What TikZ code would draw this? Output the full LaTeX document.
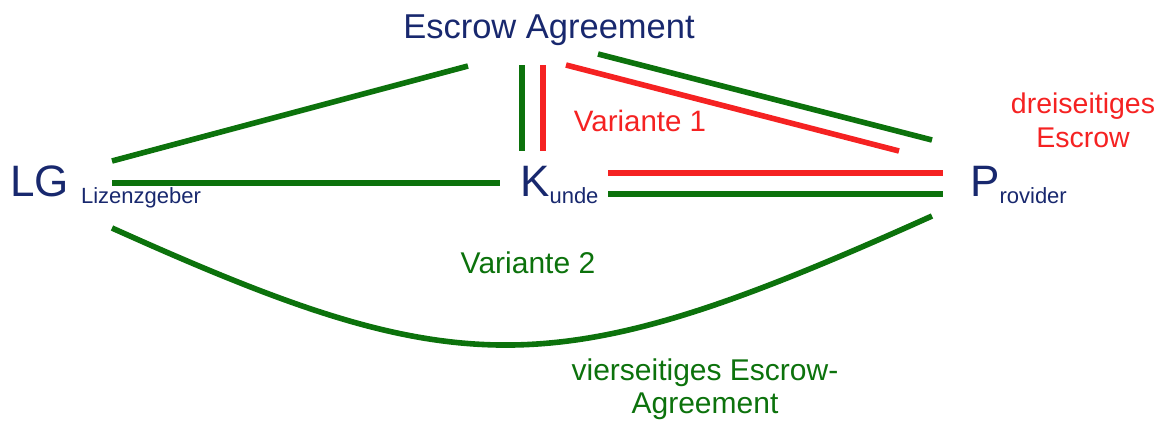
\documentclass[tikz,border=0pt]{standalone}
\usepackage{fontspec}
\setmainfont{Liberation Sans}
\definecolor{navy}{RGB}{24,40,110}
\definecolor{grn}{RGB}{12,114,12}
\definecolor{rd}{RGB}{245,34,34}
\newcommand{\fs}[2]{\fontsize{#1}{#2}\selectfont}
\begin{document}
\begin{tikzpicture}[x=1pt,y=-1pt,
  gl/.style={draw=grn,line width=5.6pt},
  rl/.style={draw=rd,line width=5.6pt},
  party/.style={inner sep=0pt,anchor=base west,text=navy,font=\fs{44}{50}},
  lab/.style={inner sep=0pt,anchor=base,align=center}]
\useasboundingbox (0,0) rectangle (1170,424);
% parties
\node[party] (lg) at (10,196) {LG \raisebox{-7pt}{\fs{22}{26}Lizenzgeber}};
\node[party] (k) at (520,196) {K\raisebox{-7pt}{\fs{22}{26}unde}};
\node[party] (p) at (970,196) {P\raisebox{-7pt}{\fs{22}{26}rovider}};
\node[lab,text=navy,font=\fs{34.5}{40}] (ea) at (549,38) {Escrow Agreement};
% labels (base = last line)
\node[lab,text=rd,font=\fs{28.5}{34}] (drei) at (1083,147) {dreiseitiges\\Escrow};
\node[lab,text=rd,font=\fs{29.5}{35}] (v1) at (640,131) {Variante 1};
\node[lab,text=grn,font=\fs{30}{35}] (v2) at (528,273) {Variante 2};
\node[lab,text=grn,font=\fs{30}{33}] (vier) at (705,413) {vierseitiges Escrow-\\Agreement};
% connector end points
\coordinate (lgA) at (112,161);
\coordinate (eaA) at (468,66);
\coordinate (lgB) at (112,183);
\coordinate (kB) at (500,183);
\coordinate (lgC) at (112,228);
\coordinate (pC) at (932,216);
\coordinate (eaG) at (522,65);
\coordinate (kG) at (522,151);
\coordinate (eaR) at (543,65);
\coordinate (kR) at (543,151);
\coordinate (eaR2) at (566,65);
\coordinate (pR2) at (899,151);
\coordinate (eaG2) at (598,54);
\coordinate (pG2) at (932,140);
\coordinate (kR3) at (608,173);
\coordinate (pR3) at (943,173);
\coordinate (kG3) at (608,194);
\coordinate (pG3) at (943,194);
% connectors
\draw[gl] (lgA) -- (eaA);
\draw[gl] (lgB) -- (kB);
\draw[gl] (lgC) .. controls (463,386) and (554,386) .. (pC);
\draw[gl] (eaG) -- (kG);
\draw[rl] (eaR) -- (kR);
\draw[rl] (eaR2) -- (pR2);
\draw[gl] (eaG2) -- (pG2);
\draw[rl] (kR3) -- (pR3);
\draw[gl] (kG3) -- (pG3);
\end{tikzpicture}
\end{document}
